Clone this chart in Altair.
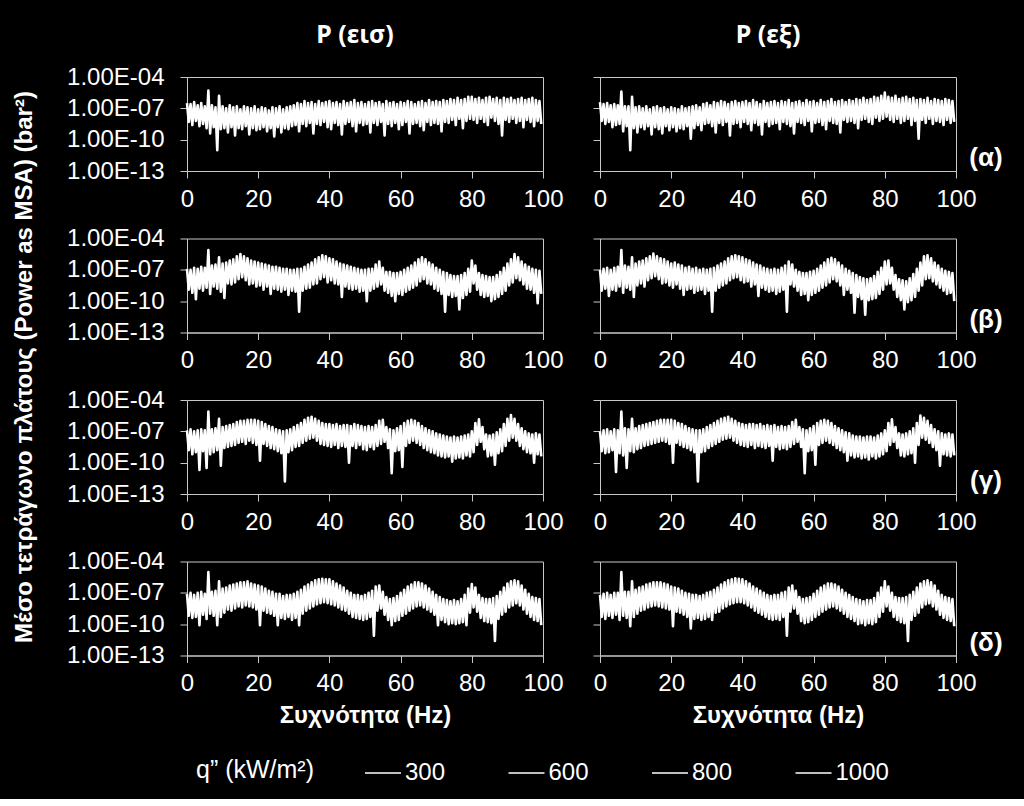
import altair as alt
import pandas as pd

# ---- frequency grid (Hz): upper-noise samples at integer Hz, lower-noise samples half way between
FREQ = list(range(100))

# ---- log10 of mean-square amplitude (bar^2)
# (α) q" = 300
A_IN_TOP = [-6.5,-6.6,-6.4,-6.7,-6.5,-6.8,-5.3,-6.7,-6.9,-5.8,
            -6.8,-7.0,-6.7,-6.9,-6.8,-7.1,-6.8,-6.9,-7.0,-6.8,
            -7.1,-6.9,-7.0,-7.2,-6.9,-7.0,-6.8,-7.1,-6.9,-6.8,
            -6.7,-6.5,-6.6,-6.3,-6.5,-6.4,-6.6,-6.3,-6.5,-6.4,
            -6.3,-6.5,-6.4,-6.6,-6.3,-6.5,-6.4,-6.2,-6.5,-6.4,
            -6.6,-6.4,-6.3,-6.5,-6.4,-6.6,-6.3,-6.5,-6.4,-6.6,
            -6.4,-6.5,-6.3,-6.4,-6.6,-6.4,-6.3,-6.5,-6.2,-6.4,
            -6.3,-6.4,-6.2,-6.3,-6.1,-6.2,-6.0,-6.2,-6.1,-5.9,
            -5.9,-6.1,-6.0,-6.2,-6.0,-5.9,-6.1,-6.0,-6.2,-6.0,
            -6.1,-6.0,-6.2,-6.1,-6.0,-6.2,-6.1,-6.0,-6.2,-6.3]
A_IN_BOT = [-8.3,-8.6,-8.2,-8.7,-8.5,-8.9,-9.4,-8.8,-11.0,-9.0,
            -8.9,-9.3,-8.8,-9.6,-8.9,-9.0,-8.7,-9.5,-8.9,-9.1,
            -9.0,-8.8,-9.2,-8.9,-9.7,-8.8,-9.3,-8.9,-9.0,-8.7,
            -8.6,-9.2,-8.5,-8.7,-8.4,-9.4,-8.5,-8.6,-8.3,-8.8,
            -9.0,-8.4,-8.6,-9.5,-8.5,-8.3,-8.7,-9.2,-8.4,-8.6,
            -8.5,-9.3,-8.4,-8.6,-8.3,-9.6,-8.5,-8.7,-8.4,-9.0,
            -8.6,-8.3,-9.4,-8.5,-8.4,-8.7,-9.1,-8.3,-8.6,-8.4,
            -8.5,-9.2,-8.3,-8.4,-8.1,-8.6,-8.0,-8.9,-8.2,-8.0,
            -8.1,-8.4,-8.0,-8.3,-8.6,-7.9,-8.2,-8.5,-9.6,-8.1,
            -8.3,-8.0,-8.4,-8.2,-8.8,-8.1,-8.3,-8.7,-8.2,-8.5]
A_OUT_TOP = [-6.4,-6.6,-6.5,-6.7,-6.6,-6.7,-5.4,-6.8,-6.8,-5.9,
             -6.9,-6.8,-7.0,-6.8,-7.1,-6.9,-6.8,-7.0,-6.9,-7.1,
             -6.9,-7.0,-7.1,-6.8,-7.0,-6.9,-6.8,-6.7,-6.9,-6.6,
             -6.5,-6.7,-6.4,-6.5,-6.3,-6.4,-6.6,-6.4,-6.3,-6.5,
             -6.4,-6.3,-6.5,-6.2,-6.4,-6.6,-6.3,-6.5,-6.4,-6.3,
             -6.5,-6.3,-6.4,-6.2,-6.5,-6.4,-6.3,-6.5,-6.2,-6.4,
             -6.3,-6.5,-6.2,-6.4,-6.3,-6.1,-6.4,-6.3,-6.2,-6.4,
             -6.2,-6.3,-6.1,-6.2,-6.0,-6.2,-6.1,-5.9,-6.0,-5.8,
             -5.5,-5.9,-6.0,-5.8,-6.1,-6.0,-5.9,-6.1,-6.0,-6.2,
             -6.1,-6.2,-6.0,-6.3,-6.1,-6.2,-6.3,-6.1,-6.2,-6.3]
A_OUT_BOT = [-8.2,-8.5,-8.3,-8.8,-8.6,-8.5,-9.2,-8.7,-11.0,-8.9,
             -9.3,-8.8,-9.0,-8.7,-9.5,-8.8,-9.0,-9.4,-8.7,-9.1,
             -8.8,-9.2,-8.9,-9.0,-8.7,-9.9,-8.9,-8.6,-9.1,-8.5,
             -8.4,-8.7,-9.3,-8.4,-8.6,-8.3,-9.6,-8.5,-8.4,-8.8,
             -8.3,-8.5,-9.1,-8.4,-8.6,-9.5,-8.3,-8.7,-8.5,-8.4,
             -9.0,-8.3,-8.5,-8.7,-9.4,-8.3,-8.4,-8.6,-8.2,-9.2,
             -8.4,-8.3,-8.6,-9.0,-8.2,-8.4,-8.5,-9.3,-8.1,-8.3,
             -8.2,-8.4,-8.9,-8.1,-8.0,-8.3,-8.5,-7.9,-8.2,-8.0,
             -7.8,-8.1,-8.3,-8.0,-8.4,-8.2,-8.0,-8.6,-8.2,-9.9,
             -8.1,-8.4,-8.0,-8.5,-8.2,-8.3,-8.6,-8.1,-8.4,-8.3]

# (β) q" = 600
B_IN_TOP = [-6.9,-7.0,-6.8,-6.9,-6.7,-6.8,-5.1,-6.6,-6.5,-5.8,
            -6.4,-6.3,-6.1,-6.0,-5.7,-5.5,-5.7,-5.9,-6.1,-6.2,
            -6.3,-6.4,-6.5,-6.6,-6.7,-6.7,-6.8,-6.9,-6.9,-7.0,
            -7.0,-6.9,-6.9,-6.7,-6.5,-6.3,-6.0,-5.8,-5.6,-5.7,
            -5.9,-6.0,-6.2,-6.4,-6.5,-6.6,-6.7,-6.8,-6.9,-7.0,
            -7.0,-6.9,-6.9,-6.5,-6.2,-6.8,-7.2,-7.2,-7.3,-7.3,
            -7.2,-7.0,-6.8,-6.6,-6.3,-6.0,-5.8,-6.0,-6.3,-6.5,
            -6.8,-7.0,-7.2,-7.3,-7.5,-7.6,-7.6,-7.5,-7.3,-6.9,
            -6.1,-6.6,-7.3,-7.5,-7.6,-7.7,-7.7,-7.5,-7.2,-6.8,
            -6.4,-6.0,-5.5,-5.8,-6.2,-6.5,-6.7,-6.9,-7.0,-7.1]
B_IN_BOT = [-8.9,-9.2,-9.8,-8.8,-9.0,-8.7,-9.3,-8.6,-8.8,-9.1,
            -9.7,-8.3,-8.4,-8.2,-7.9,-7.7,-8.0,-8.4,-8.3,-8.6,
            -8.5,-8.9,-8.6,-9.3,-8.8,-8.9,-9.1,-8.9,-9.4,-9.0,
            -9.1,-11.0,-9.0,-8.8,-8.7,-8.4,-8.3,-7.9,-7.7,-8.2,
            -8.0,-8.3,-8.4,-9.6,-8.6,-8.8,-8.9,-8.8,-9.1,-9.0,
            -10.0,-9.0,-8.8,-8.6,-8.4,-9.0,-9.2,-9.5,-10.0,-9.3,
            -9.4,-9.1,-8.9,-8.7,-8.5,-8.1,-7.9,-8.3,-8.4,-8.8,
            -9.0,-9.3,-11.0,-9.4,-9.6,-9.5,-10.8,-9.7,-9.4,-9.1,
            -8.3,-8.9,-9.4,-9.6,-9.5,-10.0,-9.8,-9.6,-9.3,-9.0,
            -8.5,-8.2,-7.8,-8.0,-8.4,-8.8,-8.9,-9.2,-10.2,-9.3]
B_OUT_TOP = [-7.0,-6.9,-6.8,-7.0,-6.8,-6.7,-5.1,-6.6,-6.7,-5.8,
             -6.4,-6.2,-6.1,-5.9,-5.7,-5.45,-5.7,-5.9,-6.0,-6.2,
             -6.4,-6.3,-6.5,-6.6,-6.8,-6.7,-6.9,-6.8,-7.0,-6.9,
             -7.0,-6.9,-6.8,-6.6,-6.4,-6.2,-5.9,-5.7,-5.6,-5.7,
             -5.8,-6.0,-6.1,-6.3,-6.5,-6.6,-6.8,-6.9,-7.0,-6.9,
             -7.0,-6.8,-6.6,-6.2,-6.5,-7.0,-7.2,-7.3,-7.3,-7.2,
             -7.1,-6.9,-6.6,-6.3,-6.0,-5.85,-6.0,-6.3,-6.6,-6.9,
             -7.1,-7.3,-7.5,-7.7,-7.8,-7.9,-7.8,-7.6,-7.2,-6.8,
             -6.2,-6.1,-6.8,-7.5,-7.9,-8.0,-8.1,-7.8,-7.4,-6.9,
             -6.3,-5.7,-5.6,-5.9,-6.3,-6.6,-6.9,-7.1,-7.2,-7.3]
B_OUT_BOT = [-9.0,-8.8,-9.5,-8.9,-9.0,-8.6,-9.2,-8.7,-8.9,-9.6,
             -8.5,-8.3,-8.6,-8.0,-7.8,-7.6,-7.9,-8.3,-8.2,-8.5,
             -8.7,-8.4,-8.8,-9.4,-8.9,-8.8,-9.2,-9.0,-8.9,-9.3,
             -9.0,-11.0,-9.0,-8.7,-8.5,-8.3,-8.0,-7.8,-7.7,-8.0,
             -8.2,-8.1,-8.6,-8.4,-9.5,-8.7,-8.9,-9.1,-9.0,-9.3,
             -9.1,-8.9,-11.0,-8.4,-8.6,-9.0,-9.4,-9.3,-9.9,-9.4,
             -9.2,-9.0,-8.7,-8.5,-8.2,-7.9,-8.1,-8.5,-9.4,-8.9,
             -9.2,-11.1,-9.6,-9.8,-11.3,-9.9,-9.8,-9.7,-9.3,-8.9,
             -8.4,-8.3,-8.9,-9.6,-9.9,-10.8,-10.1,-9.9,-9.6,-9.0,
             -8.5,-7.9,-7.8,-8.1,-8.4,-8.7,-9.0,-9.3,-9.2,-10.0]

# (γ) q" = 800
C_IN_TOP = [-6.9,-6.8,-7.0,-6.9,-6.8,-6.9,-5.1,-6.8,-6.7,-5.8,
            -6.6,-6.5,-6.4,-6.3,-6.1,-6.0,-6.0,-5.9,-5.9,-5.9,
            -6.0,-6.1,-6.3,-6.5,-6.6,-6.8,-6.9,-7.0,-6.9,-6.8,
            -6.6,-6.4,-6.2,-5.9,-5.7,-5.6,-5.8,-6.0,-6.2,-6.3,
            -6.3,-6.4,-6.3,-6.5,-6.4,-6.4,-6.5,-6.3,-6.4,-6.5,
            -6.6,-6.5,-6.6,-6.4,-6.0,-5.9,-6.6,-6.8,-6.9,-6.7,
            -6.5,-6.2,-6.0,-5.9,-6.0,-6.2,-6.5,-6.7,-6.9,-7.0,
            -7.2,-7.3,-7.4,-7.5,-7.6,-7.5,-7.6,-7.5,-7.4,-7.3,
            -7.0,-6.2,-5.85,-6.6,-7.3,-7.4,-7.3,-7.1,-6.8,-6.3,
            -5.8,-5.45,-5.8,-6.3,-6.7,-7.0,-7.2,-7.3,-7.2,-7.3]
C_IN_BOT = [-8.8,-9.2,-9.0,-10.7,-8.9,-10.5,-9.2,-9.0,-8.8,-10.3,
            -8.6,-8.5,-8.4,-8.3,-8.1,-8.0,-8.2,-7.9,-8.1,-8.3,
            -9.8,-8.2,-8.4,-8.6,-8.7,-8.9,-9.1,-11.8,-9.0,-8.8,
            -8.5,-8.4,-8.1,-7.9,-7.7,-7.6,-7.9,-8.2,-8.3,-8.4,
            -8.5,-8.3,-8.6,-8.4,-8.5,-10.0,-8.4,-8.6,-8.3,-8.7,
            -8.8,-8.5,-8.7,-8.4,-8.2,-8.0,-8.6,-11.0,-8.9,-8.8,
            -10.4,-8.4,-8.1,-7.9,-8.1,-8.3,-8.6,-8.8,-9.0,-9.1,
            -9.3,-9.4,-9.5,-9.4,-9.9,-9.6,-9.5,-9.6,-9.3,-9.4,
            -9.0,-8.3,-8.0,-8.7,-9.4,-9.3,-10.2,-9.1,-8.9,-8.4,
            -7.9,-7.6,-7.9,-8.4,-8.7,-9.0,-9.1,-10.0,-9.2,-9.4]
C_OUT_TOP = [-7.0,-6.9,-6.8,-7.0,-6.8,-6.9,-5.1,-6.7,-6.8,-5.8,
             -6.7,-6.5,-6.4,-6.3,-6.2,-6.1,-6.0,-5.9,-5.9,-5.9,
             -5.9,-6.0,-6.2,-6.3,-6.5,-6.7,-6.8,-6.9,-6.9,-6.8,
             -6.6,-6.4,-6.2,-6.0,-5.8,-5.7,-5.6,-5.8,-6.0,-6.2,
             -6.3,-6.4,-6.3,-6.3,-6.4,-6.3,-6.5,-6.4,-6.5,-6.4,
             -6.6,-6.5,-6.6,-6.5,-6.1,-5.9,-6.6,-6.8,-6.9,-6.7,
             -6.5,-6.2,-6.0,-5.9,-6.0,-6.2,-6.5,-6.7,-6.9,-7.1,
             -7.2,-7.4,-7.5,-7.5,-7.6,-7.5,-7.5,-7.6,-7.4,-7.2,
             -6.9,-6.2,-5.85,-6.6,-7.2,-7.3,-7.2,-7.0,-6.7,-6.2,
             -5.5,-5.7,-6.0,-6.4,-6.8,-7.0,-7.2,-7.3,-7.2,-7.3]
C_OUT_BOT = [-8.9,-9.1,-9.0,-8.8,-10.9,-9.1,-9.3,-10.5,-8.9,-9.0,
             -8.7,-8.6,-8.4,-8.3,-8.2,-8.1,-8.0,-7.9,-8.0,-8.2,
             -10.0,-8.1,-8.3,-8.5,-8.6,-8.8,-9.0,-11.8,-9.0,-8.9,
             -8.6,-8.4,-8.2,-8.0,-7.8,-7.7,-7.6,-7.9,-8.1,-8.3,
             -8.4,-8.5,-8.3,-8.6,-8.4,-8.5,-8.6,-8.4,-9.8,-8.5,
             -8.7,-8.6,-8.7,-8.5,-8.2,-8.0,-8.5,-11.0,-8.9,-8.8,
             -10.2,-8.3,-8.1,-7.9,-8.1,-8.3,-8.6,-8.8,-9.0,-9.8,
             -9.3,-9.5,-9.4,-9.6,-9.5,-9.7,-9.4,-9.6,-9.4,-9.2,
             -8.9,-8.3,-8.0,-8.6,-9.3,-9.4,-9.2,-9.1,-10.0,-8.3,
             -7.6,-7.8,-8.1,-8.5,-8.8,-10.3,-9.2,-9.3,-9.4,-9.3]

# (δ) q" = 1000
D_IN_TOP = [-7.1,-7.0,-7.2,-7.0,-6.9,-7.1,-5.0,-6.9,-6.8,-5.9,
            -6.6,-6.5,-6.3,-6.2,-6.1,-6.0,-6.0,-5.9,-6.1,-6.2,
            -6.3,-6.4,-6.6,-6.8,-6.9,-7.1,-7.1,-7.3,-7.2,-7.2,
            -7.1,-6.9,-6.7,-6.4,-6.2,-6.0,-5.8,-5.7,-5.65,-5.7,
            -5.7,-5.9,-6.1,-6.3,-6.5,-6.8,-7.0,-7.2,-7.2,-7.3,
            -7.2,-7.0,-6.8,-6.4,-6.3,-6.9,-7.4,-7.6,-7.5,-7.3,
            -7.0,-6.7,-6.4,-6.2,-6.0,-6.0,-6.1,-6.3,-6.6,-6.9,
            -7.2,-7.4,-7.6,-7.7,-7.8,-7.7,-7.8,-7.6,-7.2,-6.6,
            -6.15,-6.5,-7.2,-7.5,-7.6,-7.6,-7.5,-7.3,-6.9,-6.5,
            -6.1,-5.9,-5.8,-5.9,-6.3,-6.7,-7.1,-7.4,-7.5,-7.6]
D_IN_BOT = [-9.2,-9.4,-9.3,-10.1,-9.1,-9.5,-9.0,-9.2,-10.1,-9.3,
            -8.9,-8.6,-8.7,-8.5,-8.3,-8.4,-8.2,-8.3,-8.4,-8.6,
            -10.1,-8.7,-8.9,-9.0,-9.2,-10.1,-9.4,-9.5,-9.3,-9.6,
            -9.4,-10.1,-9.0,-8.7,-8.5,-8.3,-8.1,-8.0,-7.9,-8.0,
            -8.1,-8.2,-8.4,-8.6,-8.7,-9.0,-9.3,-9.4,-9.5,-9.6,
            -9.5,-9.3,-11.1,-8.7,-8.5,-9.1,-9.6,-10.1,-9.7,-9.6,
            -9.2,-9.0,-8.7,-8.5,-8.3,-8.2,-8.4,-8.6,-8.8,-9.1,
            -10.1,-9.6,-9.8,-10.0,-9.9,-10.0,-9.9,-9.8,-10.1,-8.9,
            -8.4,-8.8,-9.4,-9.7,-9.8,-9.9,-11.6,-9.5,-9.1,-8.8,
            -8.4,-8.2,-8.0,-8.2,-8.6,-9.0,-9.3,-9.6,-9.7,-10.1]
D_OUT_TOP = [-7.2,-7.1,-7.0,-7.2,-7.0,-7.0,-5.0,-6.9,-6.9,-5.9,
             -6.7,-6.5,-6.4,-6.2,-6.1,-6.0,-6.0,-6.0,-6.1,-6.2,
             -6.4,-6.5,-6.6,-6.8,-7.0,-7.1,-7.2,-7.2,-7.3,-7.2,
             -7.0,-6.9,-6.7,-6.5,-6.2,-6.0,-5.8,-5.7,-5.6,-5.65,
             -5.7,-5.9,-6.1,-6.4,-6.6,-6.8,-7.0,-7.2,-7.3,-7.2,
             -7.2,-7.0,-6.9,-6.5,-6.3,-6.8,-7.4,-7.6,-7.5,-7.4,
             -7.1,-6.8,-6.5,-6.3,-6.1,-6.1,-6.2,-6.4,-6.7,-7.0,
             -7.2,-7.4,-7.6,-7.7,-7.8,-7.7,-7.7,-7.5,-7.0,-6.5,
             -5.9,-6.4,-7.0,-7.4,-7.5,-7.5,-7.4,-7.2,-6.9,-6.5,
             -6.1,-5.9,-5.8,-6.0,-6.3,-6.8,-7.2,-7.4,-7.5,-7.6]
D_OUT_BOT = [-9.3,-9.5,-9.2,-9.4,-9.1,-9.6,-9.2,-9.4,-10.2,-9.3,
             -9.0,-8.7,-8.6,-8.4,-8.3,-8.2,-8.3,-8.4,-8.5,-8.6,
             -10.2,-8.8,-8.9,-9.1,-9.3,-10.4,-9.5,-9.4,-9.6,-9.5,
             -9.3,-9.6,-8.9,-8.8,-8.5,-8.3,-8.1,-8.0,-7.9,-7.9,
             -8.0,-8.2,-8.4,-8.7,-8.9,-9.1,-9.3,-9.5,-9.6,-9.5,
             -9.6,-9.3,-11.1,-8.8,-8.5,-9.0,-9.7,-9.9,-9.8,-9.6,
             -9.3,-9.1,-8.8,-8.6,-8.4,-8.3,-8.5,-8.7,-9.0,-9.3,
             -9.5,-9.7,-10.0,-9.9,-10.1,-9.9,-10.0,-9.8,-9.3,-8.8,
             -8.3,-8.7,-9.3,-9.6,-9.8,-9.9,-11.6,-9.6,-9.2,-8.9,
             -8.4,-8.1,-8.0,-8.3,-8.6,-9.1,-9.4,-9.6,-9.7,-10.2]

Q_LEVELS = ["300", "600", "800", "1000"]
ROW_LABELS = ["(α)", "(β)", "(γ)", "(δ)"]
COL_TITLES = ["P (εισ)", "P (εξ)"]
X_TICKS = [0, 20, 40, 60, 80, 100]
Y_TICKS = [1e-4, 1e-7, 1e-10, 1e-13]
Y_TITLE = "Μέσο τετράγωνο πλάτους (Power as MSA) (bar²)"
X_TITLE = "Συχνότητα (Hz)"
LEGEND_TITLE = "q” (kW/m²)"

SERIES = [
    [(A_IN_TOP, A_IN_BOT), (A_OUT_TOP, A_OUT_BOT)],
    [(B_IN_TOP, B_IN_BOT), (B_OUT_TOP, B_OUT_BOT)],
    [(C_IN_TOP, C_IN_BOT), (C_OUT_TOP, C_OUT_BOT)],
    [(D_IN_TOP, D_IN_BOT), (D_OUT_TOP, D_OUT_BOT)],
]
for row in SERIES:
    for top, bot in row:
        assert len(top) == 100 and len(bot) == 100


def make_df(top, bot, q):
    rows = []
    for i, f in enumerate(FREQ):
        rows.append({"f": float(f), "p": 10 ** top[i], "q": q})
        rows.append({"f": f + 0.5, "p": 10 ** bot[i], "q": q})
    return pd.DataFrame(rows)


W, H = 356, 94
FRAME = "#c8c8c8"
LABEL_EXPR = ("'1.00E-' + (datum.value > 1e-10 ? '0' : '') + "
              "format(-log(datum.value) / LN10, '.0f')")
LINE_STYLE = dict(strokeWidth=2.6, strokeJoin="round", strokeCap="butt")


def panel(r, c):
    top, bot = SERIES[r][c]
    df = make_df(top, bot, Q_LEVELS[r])
    x_kwargs = dict(values=X_TICKS, labelPadding=9, labelFlush=False)
    if r == 3:
        x_kwargs.update(title=X_TITLE, titlePadding=8)
    else:
        x_kwargs.update(title=None)
    y_kwargs = dict(values=Y_TICKS, title=None)
    if c == 0:
        y_kwargs.update(labelExpr=LABEL_EXPR, labelPadding=16)
    else:
        y_kwargs.update(labels=False)

    enc = dict(
        x=alt.X("f:Q", scale=alt.Scale(domain=[0, 100], nice=False), axis=alt.Axis(**x_kwargs)),
        y=alt.Y("p:Q", scale=alt.Scale(type="log", domain=[1e-13, 1e-4], nice=False),
                axis=alt.Axis(**y_kwargs)),
    )
    if r == 3 and c == 0:
        enc["color"] = alt.Color(
            "q:N",
            scale=alt.Scale(domain=Q_LEVELS, range=["#ffffff"] * 4),
            legend=alt.Legend(
                orient="none", legendX=9, legendY=677, direction="horizontal", columns=4,
                title=LEGEND_TITLE, titleOrient="left", titleFontSize=25,
                titleFontWeight="normal", titleColor="white", titleFont="Liberation Sans",
                titlePadding=49, titleBaseline="middle", titleAnchor="middle",
                labelFontSize=24, labelColor="white", labelFont="Liberation Sans",
                labelOffset=3, symbolType="stroke", symbolSize=1296,
                symbolStrokeWidth=1.5, columnPadding=59.5, padding=0,
            ),
        )
        line = alt.Chart(df).mark_line(**LINE_STYLE).encode(**enc)
    else:
        line = alt.Chart(df).mark_line(color="white", **LINE_STYLE).encode(**enc)

    layers = [line]
    if c == 1:
        lab = alt.Chart(pd.DataFrame({"t": [ROW_LABELS[r]]})).mark_text(
            font="Liberation Sans", fontSize=26, fontWeight="bold", color="white",
            align="center", baseline="middle",
        ).encode(text="t:N", x=alt.value(386), y=alt.value(81))
        layers.append(lab)
    if r == 0:
        ttl = alt.Chart(pd.DataFrame({"t": [COL_TITLES[c]]})).mark_text(
            font="Noto Sans", fontSize=25, fontWeight="bold", color="white",
            align="center", baseline="middle",
        ).encode(text="t:N", x=alt.value(168), y=alt.value(-42))
        layers.append(ttl)
    if r == 0 and c == 0:
        yt = alt.Chart(pd.DataFrame({"t": [Y_TITLE]})).mark_text(
            font="Liberation Sans", fontSize=24, fontWeight="bold", color="white",
            align="center", baseline="middle", angle=270,
        ).encode(text="t:N", x=alt.value(-162), y=alt.value(290))
        layers.append(yt)
    return alt.layer(*layers).properties(width=W, height=H)


panels = [panel(r, c) for r in range(4) for c in range(2)]
chart = alt.concat(
    *panels, columns=2, spacing={"row": 67.5, "column": 57}, bounds="flush"
).properties(
    padding={"left": 12, "top": 22, "right": 20, "bottom": 14},
).configure(background="black").configure_view(
    stroke=FRAME, strokeWidth=1
).configure_axis(
    domainColor=FRAME, tickColor=FRAME, tickSize=7, grid=False,
    labelColor="white", labelFont="Liberation Sans", labelFontSize=24,
    titleColor="white", titleFont="Liberation Sans", titleFontSize=24, titleFontWeight="bold",
)

chart.save("out.html", embed_options={"renderer": "svg", "actions": False})
